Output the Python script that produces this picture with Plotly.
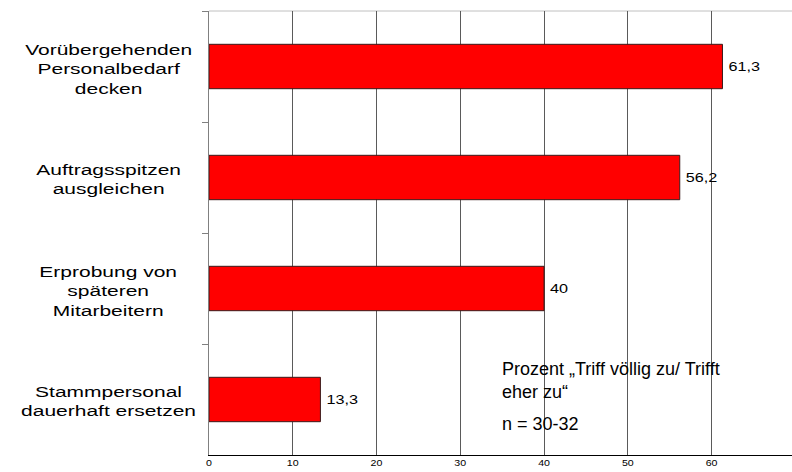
import plotly.graph_objects as go

categories = [
    "Vorübergehenden<br>Personalbedarf<br>decken",
    "Auftragsspitzen<br>ausgleichen",
    "Erprobung von<br>späteren<br>Mitarbeitern",
    "Stammpersonal<br>dauerhaft ersetzen",
]
values = [61.3, 56.2, 40.0, 13.3]
x_ticks = [0, 10, 20, 30, 40, 50, 60, 70]
note_text = "Prozent „Triff völlig zu/ Trifft<br>eher zu“"
n_text = "n = 30-32"

FONT = "Liberation Sans, Arial, sans-serif"

fig = go.Figure()
fig.add_trace(go.Bar(
    y=categories,
    x=values,
    orientation="h",
    width=0.4,
    marker=dict(color="#ff0000", line=dict(color="#3a1a1a", width=1)),
    texttemplate="%{x}",
    textposition="outside",
    cliponaxis=False,
    textfont=dict(family=FONT, size=12, color="#000000"),
    hoverinfo="skip",
))

annotations = []
for c in categories:
    annotations.append(dict(
        x=0, xref="paper", y=c, yref="y",
        xanchor="center", yanchor="middle", xshift=-101, yshift=-2,
        text=c, showarrow=False, align="center",
        font=dict(family=FONT, size=15, color="#000000"),
    ))
annotations.append(dict(
    x=34.7, xref="x", y=2.825, yref="y",
    xanchor="left", yanchor="middle",
    text=note_text, showarrow=False, align="left",
    font=dict(family=FONT, size=18, color="#000000"),
))
annotations.append(dict(
    x=34.7, xref="x", y=3.225, yref="y",
    xanchor="left", yanchor="middle",
    text=n_text, showarrow=False, align="left",
    font=dict(family=FONT, size=18, color="#000000"),
))

fig.update_layout(
    width=792, height=472,
    margin=dict(l=209, r=0, t=11, b=17),
    paper_bgcolor="#ffffff", plot_bgcolor="#ffffff",
    separators=",.",
    showlegend=False,
    bargap=0.6,
    annotations=annotations,
    shapes=[dict(type="line", xref="paper", yref="paper", x0=0, x1=1, y0=1, y1=1,
                 line=dict(color="#c0c0c0", width=1), layer="below")],
    xaxis=dict(
        range=[0, 69.6], tickvals=x_ticks, ticktext=[str(t) for t in x_ticks],
        showgrid=True, gridcolor="#5a5a5a", gridwidth=1,
        showline=True, linecolor="#000000", linewidth=1,
        ticks="", zeroline=False,
        tickfont=dict(family=FONT, size=8.5, color="#000000"),
        fixedrange=True,
    ),
    yaxis=dict(
        autorange="reversed", showticklabels=False,
        showline=True, linecolor="#808080", linewidth=1,
        ticks="outside", tickson="boundaries", ticklen=6, tickcolor="#808080",
        showgrid=False, fixedrange=True,
    ),
)

post = """
var gd = document.getElementById('{plot_id}');
function stretchCenter(t, s){
  if (t.getAttribute('data-st')) return;
  var bb = t.getBBox();
  var cx = bb.x + bb.width / 2;
  var tr = t.getAttribute('transform') || '';
  t.setAttribute('transform', tr + ' translate(' + (cx * (1 - s)) + ',0) scale(' + s + ',1)');
  t.setAttribute('data-st', '1');
}
function stretchLeft(t, s, dx){
  if (t.getAttribute('data-st')) return;
  var bb = t.getBBox();
  var lx = bb.x;
  var tr = t.getAttribute('transform') || '';
  t.setAttribute('transform', tr + ' translate(' + (lx * (1 - s) + dx) + ',0) scale(' + s + ',1)');
  t.setAttribute('data-st', '1');
}
function sp(){
  gd.querySelectorAll('.annotation').forEach(function(a){
    var i = parseInt(a.getAttribute('data-index'));
    if (i < 4) { a.querySelectorAll('text.annotation-text').forEach(function(t){ stretchCenter(t, 1.40); }); }
  });
  gd.querySelectorAll('text.bartext').forEach(function(t){ stretchLeft(t, 1.35, 3); });
  gd.querySelectorAll('.xtick text').forEach(function(t){ stretchCenter(t, 1.25); });
}
sp(); setTimeout(sp, 100); setTimeout(sp, 500);
gd.on('plotly_afterplot', sp);
"""

fig.write_html("out.html", config={"staticPlot": True, "responsive": False}, post_script=post)
